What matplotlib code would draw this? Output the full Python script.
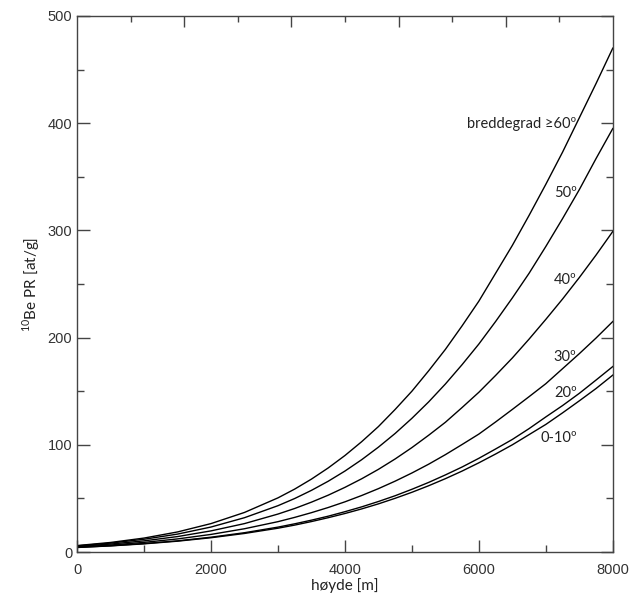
import matplotlib
matplotlib.use("Agg")
import matplotlib.pyplot as plt

plt.rcParams['font.family'] = ['Liberation Sans', 'DejaVu Sans']
plt.rcParams['mathtext.fontset'] = 'custom'
plt.rcParams['mathtext.rm'] = 'Lato'

# altitude [m]
hoyde = [0, 500, 1000, 1500, 2000, 2500, 3000, 3250, 3500, 3750, 4000,
         4250, 4500, 4750, 5000, 5250, 5500, 5750, 6000, 6250, 6500,
         6750, 7000, 7250, 7500, 7750, 8000]

# 10Be production rate [at/g], one list per latitude band
pr_60 = [6.0, 8.9, 13.0, 18.7, 26.5, 36.9, 50.5, 58.7, 68.0, 78.4, 90.0,
         102.9, 117, 133, 150, 169, 189, 211, 234, 260, 286,
         314, 343, 373, 405, 437, 470]
pr_50 = [5.7, 8.3, 11.9, 16.7, 23.3, 32.0, 43.2, 49.9, 57.5, 66.0, 75.5,
         86.1, 97.8, 110.6, 124.7, 140.0, 156.7, 174.8, 194, 215, 237,
         260, 285, 311, 338, 367, 395]
pr_40 = [5.2, 7.4, 10.4, 14.4, 19.7, 26.5, 35.4, 40.6, 46.5, 53.0, 60.3,
         68.3, 77.1, 86.8, 97.4, 108.9, 121, 134.8, 149, 164.7, 181,
         198.6, 217, 236, 256, 277, 299]
pr_30 = [4.7, 6.5, 9.0, 12.2, 16.4, 21.7, 28.3, 32.3, 36.7, 41.5, 46.8,
         52.7, 59.1, 66.1, 73.7, 81.9, 90.8, 100.3, 110, 121.3, 133,
         144.9, 157, 171, 185, 199.6, 215]
pr_20 = [4.3, 5.8, 7.9, 10.4, 13.8, 18.0, 23.2, 26.3, 29.7, 33.4, 37.6,
         42.1, 47.1, 52.5, 58.5, 64.9, 71.9, 79.3, 87.4, 96.1, 105,
         115.1, 126, 136.6, 148, 160.4, 173]
pr_0_10 = [4.2, 5.7, 7.6, 10.1, 13.3, 17.3, 22.2, 25.1, 28.4, 32.0, 35.9,
           40.2, 44.9, 50.1, 55.7, 61.8, 68.4, 75.5, 83.2, 91.4, 100,
           109.5, 119, 129.8, 141, 152.5, 165]

labels = ['breddegrad \u226560\u00ba', '50\u00ba', '40\u00ba', '30\u00ba', '20\u00ba', '0-10\u00ba']
label_y = [399, 335, 254, 182, 148, 106]

fig = plt.figure(figsize=(6.37, 6.05), dpi=100)
ax = fig.add_axes([0.121, 0.0876, 0.841, 0.886])

for pr in [pr_60, pr_50, pr_40, pr_30, pr_20, pr_0_10]:
    ax.plot(hoyde, pr, c='black', lw=1.0)

for txt, yy in zip(labels, label_y):
    ax.text(7460, yy, txt, ha='right', va='center', fontsize=10.5,
            color='#222222', family=['Lato', 'DejaVu Sans'])

ax.set_xlim(0, 8000)
ax.set_ylim(0, 500)
ax.set_xticks([0, 2000, 4000, 6000, 8000])
ax.set_xticks([1000, 3000, 5000, 7000], minor=True)
ax.set_yticks([0, 100, 200, 300, 400, 500])
ax.set_yticks([50, 150, 250, 350, 450], minor=True)

spine_col = '#444444'
for s in ax.spines.values():
    s.set_color(spine_col)
    s.set_linewidth(1.0)

ax.tick_params(which='both', direction='in', right=True, colors=spine_col,
               labelcolor='#333333', labelsize=10.5)
ax.tick_params(which='major', length=9, width=1)
ax.tick_params(which='minor', length=5, width=1)
ax.tick_params(axis='x', pad=8)

# top axis has its own tick spacing
ax2 = ax.twiny()
ax2.set_xlim(0, 8000)
ax2.set_xticks([1600, 3200, 4800, 6400])
ax2.set_xticks([800, 2400, 4000, 5600, 7200], minor=True)
ax2.tick_params(which='both', direction='in', colors=spine_col, labeltop=False, width=1)
ax2.tick_params(which='major', length=8)
ax2.tick_params(which='minor', length=4)
for s in ax2.spines.values():
    s.set_visible(False)

ax.set_xlabel('h\u00f8yde [m]', family=['Lato', 'DejaVu Sans'], fontsize=11, color='#222222', labelpad=1)
ax.set_ylabel(r'$^{10}$Be PR [at/g]', family=['Lato', 'DejaVu Sans'], fontsize=11, color='#222222', labelpad=4)

fig.savefig('out.png', dpi=100)
